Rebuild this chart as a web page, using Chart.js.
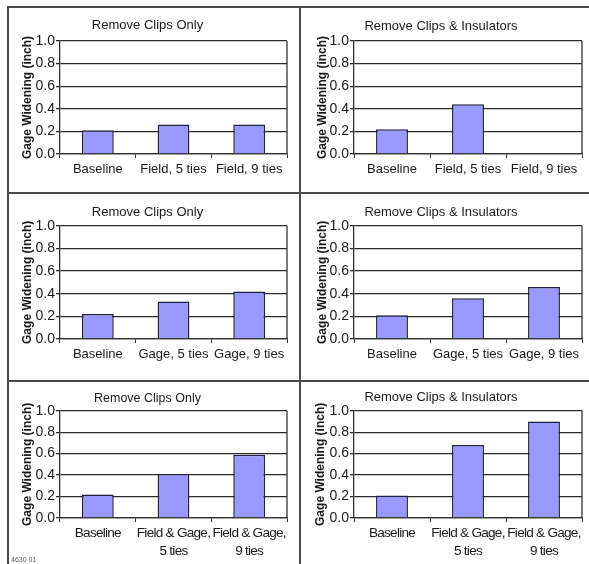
<!DOCTYPE html>
<html>
<head>
<meta charset="utf-8">
<script src="https://cdn.jsdelivr.net/npm/chart.js@4.4.1/dist/chart.umd.min.js"></script>
<style>
  html, body { margin: 0; padding: 0; background: #fff; width: 589px; height: 564px; overflow: hidden; }
  #wrap { position: relative; width: 589px; height: 564px; overflow: hidden; }
  canvas { position: absolute; }
  .ln { position: absolute; background: #4a4a4a; }
  #code { position: absolute; left: 11px; top: 556px; font: 7px "Liberation Sans", Arial, sans-serif; color: #555; }
</style>
</head>
<body>
<div id="wrap">
  <canvas id="c0" width="300" height="186" style="left:8px;top:7px"></canvas>
  <canvas id="c1" width="313" height="186" style="left:300px;top:7px"></canvas>
  <canvas id="c2" width="302" height="188" style="left:8px;top:193px"></canvas>
  <canvas id="c3" width="313" height="188" style="left:300px;top:193px"></canvas>
  <canvas id="c4" width="295" height="183" style="left:8px;top:381px"></canvas>
  <canvas id="c5" width="312" height="183" style="left:300px;top:381px"></canvas>
  <div class="ln" style="left:7px;top:6px;width:582px;height:2px"></div>
  <div class="ln" style="left:7px;top:6px;width:2px;height:558px"></div>
  <div class="ln" style="left:299px;top:6px;width:2px;height:558px"></div>
  <div class="ln" style="left:7px;top:192px;width:582px;height:2px"></div>
  <div class="ln" style="left:7px;top:380px;width:582px;height:2px"></div>
  <div id="code">4630 01</div>
</div>
<script>
// ---- data ----
const titleClips = 'Remove Clips Only';
const titleClipsIns = 'Remove Clips & Insulators';
const yAxisTitle = 'Gage Widening (inch)';
const categoriesField = ['Baseline', 'Field, 5 ties', 'Field, 9 ties'];
const categoriesGage = ['Baseline', 'Gage, 5 ties', 'Gage, 9 ties'];
const categoriesFieldGage = ['Baseline', ['Field & Gage,', '5 ties'], ['Field & Gage,', '9 ties']];
const clipsOnlyField = [0.21, 0.26, 0.26];
const clipsInsField = [0.22, 0.44, null];
const clipsOnlyGage = [0.22, 0.33, 0.42];
const clipsInsGage = [0.21, 0.36, 0.46];
const clipsOnlyFieldGage = [0.22, 0.41, 0.59];
const clipsInsFieldGage = [0.21, 0.68, 0.90];
const yMin = 0, yMax = 1.0, yStep = 0.2;

// ---- layout (styles only) ----
const FONT = '"Liberation Sans", Arial, Helvetica, sans-serif';
const panels = [
  { id: 'c0', title: titleClips, labels: categoriesField, values: clipsOnlyField,
    tSize: 13, tPad: { top: 11, bottom: 7.4 }, yW: 52, yTPad: 12, xH: 39, padR: 21, lSize: 13, lLH: 1.2, lPad: 4, ls: 0 },
  { id: 'c1', title: titleClipsIns, labels: categoriesField, values: clipsInsField,
    tSize: 13, tPad: { top: 12, bottom: 6.4 }, yW: 54, yTPad: 15, xH: 39, padR: 31, lSize: 13, lLH: 1.2, lPad: 4, ls: 0 },
  { id: 'c2', title: titleClips, labels: categoriesGage, values: clipsOnlyGage,
    tSize: 13, tPad: { top: 11.5, bottom: 5.6 }, yW: 52, yTPad: 12, xH: 42, padR: 23, lSize: 13, lLH: 1.2, lPad: 4, ls: 0 },
  { id: 'c3', title: titleClipsIns, labels: categoriesGage, values: clipsInsGage,
    tSize: 13, tPad: { top: 11.5, bottom: 5.6 }, yW: 54, yTPad: 15, xH: 42, padR: 31, lSize: 13, lLH: 1.2, lPad: 4, ls: 0 },
  { id: 'c4', title: titleClips, labels: categoriesFieldGage, values: clipsOnlyFieldGage,
    tSize: 12.5, tPad: { top: 10.5, bottom: 4.2 }, yW: 52, yTPad: 12, xH: 46, padR: 16, lSize: 13.6, lLH: 1.34, lPad: 2, ls: -0.75 },
  { id: 'c5', title: titleClipsIns, labels: categoriesFieldGage, values: clipsInsFieldGage,
    tSize: 13, tPad: { top: 8.5, bottom: 5.6 }, yW: 54, yTPad: 13, xH: 46, padR: 30, lSize: 13.6, lLH: 1.34, lPad: 2, ls: -0.75 }
];

const frame = {
  id: 'frame',
  afterDatasetsDraw(chart) {
    const ls = chart.options.plugins.frame.letterSpacing;
    if (ls) chart.ctx.letterSpacing = ls + 'px';
  },
  afterDraw(chart) {
    const a = chart.chartArea, ctx = chart.ctx;
    ctx.letterSpacing = '0px';
    ctx.save();
    ctx.strokeStyle = '#333';
    ctx.lineWidth = 1.3;
    ctx.beginPath();
    ctx.moveTo(a.right, a.top);
    ctx.lineTo(a.right, a.bottom);
    ctx.stroke();
    ctx.restore();
  }
};

panels.forEach(p => {
  new Chart(document.getElementById(p.id), {
    type: 'bar',
    data: {
      labels: p.labels,
      datasets: [{
        data: p.values,
        backgroundColor: '#9999ff',
        borderColor: '#202040',
        borderWidth: 1.5,
        categoryPercentage: 1.0,
        barPercentage: 0.42
      }]
    },
    options: {
      responsive: false,
      animation: false,
      layout: { padding: { left: 0, right: p.padR, top: 0, bottom: 0 } },
      plugins: {
        frame: { letterSpacing: p.ls },
        legend: { display: false },
        tooltip: { enabled: false },
        title: {
          display: true, text: p.title, color: '#1a1a1a',
          font: { family: FONT, size: p.tSize, weight: 'normal', lineHeight: 1.2 },
          padding: p.tPad
        }
      },
      scales: {
        x: {
          afterFit: s => { s.height = p.xH; },
          grid: { display: true, drawOnChartArea: false, drawTicks: true, tickLength: 4, color: '#333', offset: true },
          border: { display: true, color: '#333', width: 1.3 },
          ticks: {
            z: 1,
            color: '#1a1a1a', padding: p.lPad, maxRotation: 0, minRotation: 0, autoSkip: false,
            font: { family: FONT, size: p.lSize, lineHeight: p.lLH }
          }
        },
        y: {
          min: yMin, max: yMax,
          afterFit: s => { s.width = p.yW; },
          grid: { color: '#2a2a2a', lineWidth: 1.3, drawTicks: true, tickLength: 4 },
          border: { display: true, color: '#333', width: 1.3 },
          ticks: {
            stepSize: yStep, color: '#1a1a1a', padding: 1,
            font: { family: FONT, size: 14 },
            callback: v => Number(v).toFixed(1)
          },
          title: {
            display: true, text: yAxisTitle, color: '#1a1a1a',
            font: { family: FONT, size: 12, weight: 'bold', lineHeight: 1.2 },
            padding: { top: p.yTPad, bottom: 0 }
          }
        }
      }
    },
    plugins: [frame]
  });
});
</script>
</body>
</html>
